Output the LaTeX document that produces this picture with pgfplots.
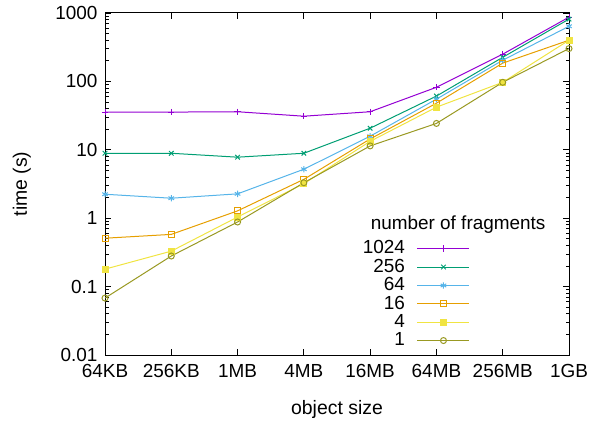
\documentclass[border=0pt]{standalone}
\usepackage{pgfplots}
\pgfplotsset{compat=1.18}
\usepackage{fontspec}
\setmainfont{Liberation Sans}
\definecolor{c1}{HTML}{9400D3}
\definecolor{c2}{HTML}{009E73}
\definecolor{c3}{HTML}{56B4E9}
\definecolor{c4}{HTML}{E69F00}
\definecolor{c5}{HTML}{F0E442}
\definecolor{c6}{HTML}{999922}
\begin{document}
\fontsize{19}{21}\selectfont
\begin{tikzpicture}
\begin{axis}[
  scale only axis, width=464bp, height=342bp,
  ymode=log, ymin=0.01, ymax=1000,
  ytick={0.01,0.1,1,10,100,1000},
  yticklabels={0.01,0.1,1,10,100,1000},
  xmin=0, xmax=7, xtick={0,1,2,3,4,5,6,7},
  xticklabels={64KB,256KB,1MB,4MB,16MB,64MB,256MB,1GB},
  xlabel={object size}, ylabel={time (s)},
  xlabel style={at={(axis description cs:0.5,-0.158)}, anchor=center},
  ylabel style={at={(axis description cs:-0.179,0.5)}, anchor=center},
  /pgf/number format/assume math mode=true,
  tick label style={font=\fontsize{19}{21}\selectfont},
  yticklabel style={xshift=-1bp},
  xticklabel style={yshift=-3bp},
  label style={font=\fontsize{19.5}{21}\selectfont},
  axis line style={line width=1bp},
  major tick length=6bp, minor tick length=3.5bp,
  every tick/.style={black, line width=0.8bp},
  legend plot pos=right, legend cell align=right,
  legend style={draw=none, fill=none, inner sep=0pt, at={(rel axis cs:0.787,0.015)}, anchor=south east,
    font=\fontsize{19}{21}\selectfont, row sep=0pt, column sep=12bp, nodes={inner ysep=1.2bp, inner xsep=0bp}},
  legend image code/.code={\draw[mark repeat=2,mark phase=2,#1] plot coordinates {(0bp,0bp) (26bp,0bp) (52bp,0bp)};},
  every axis plot/.append style={line width=1bp, mark size=3.2bp},
]
\addplot[c1, mark=+] coordinates {(0,35.4)(1,35.6)(2,36)(3,31)(4,36)(5,82)(6,250)(7,870)};
\addlegendentry{1024}
\addplot[c2, mark=x] coordinates {(0,8.9)(1,8.9)(2,7.8)(3,8.9)(4,20.7)(5,61)(6,225)(7,815)};
\addlegendentry{256}
\addplot[c3, mark=asterisk] coordinates {(0,2.24)(1,1.96)(2,2.27)(3,5.2)(4,15.8)(5,55)(6,204)(7,640)};
\addlegendentry{64}
\addplot[c4, mark=square, mark size=3bp] coordinates {(0,0.51)(1,0.58)(2,1.28)(3,3.7)(4,14.4)(5,48)(6,185)(7,400)};
\addlegendentry{16}
\addplot[c5, mark=square*, mark size=3bp] coordinates {(0,0.18)(1,0.33)(2,1.04)(3,3.2)(4,13.3)(5,42)(6,97)(7,400)};
\addlegendentry{4}
\addplot[c6, mark=o, mark size=3bp] coordinates {(0,0.068)(1,0.28)(2,0.88)(3,3.3)(4,11.4)(5,24.3)(6,97)(7,302)};
\addlegendentry{1}
\node[anchor=center, font=\fontsize{19}{21}\selectfont] at (rel axis cs:0.761,0.38) {number of fragments};
\end{axis}
\pgfresetboundingbox
\path ([shift={(-105bp,-65bp)}]current axis.south west) rectangle ([shift={(20bp,13bp)}]current axis.north east);
\end{tikzpicture}
\end{document}
